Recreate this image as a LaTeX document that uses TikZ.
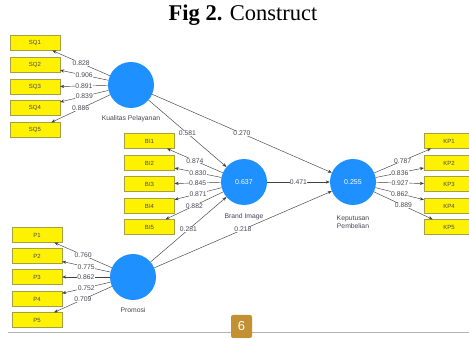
\documentclass[tikz,border=0pt]{standalone}
\usepackage{fontspec}
\setmainfont{Liberation Serif}
\setsansfont{Liberation Sans}
\usepackage{tikz}
\usetikzlibrary{arrows.meta,shapes}

\definecolor{plsblue}{RGB}{30,144,255}
\definecolor{badge}{RGB}{196,145,50}
\definecolor{lbl}{RGB}{70,70,85}

\begin{document}
\begin{tikzpicture}[x = 1pt, y = -1pt,
  every node/.style={font=\sffamily\fontsize{6.8}{8}\selectfont, text=lbl},
  item/.style={rectangle,draw=yellow!60!black,line width=.3pt,fill=yellow,minimum width=50pt,minimum height=15pt,inner sep=0pt,font=\sffamily\fontsize{6}{7}\selectfont},
  latent/.style={circle,fill=plsblue,minimum size=46pt,inner sep=0pt,text=white,font=\sffamily\fontsize{7}{8}\selectfont},
  link/.style={draw=black!75,line width=.45pt,-{Stealth[length=4pt,width=3.2pt]}},
  coef/.style={midway,fill=white,inner sep=.3pt}]
\clip (0,0) rectangle (469,339);
\fill[white] (0,0) rectangle (469,339);
\node (title) at (243,15) {\rmfamily\color{black}\fontsize{22.5}{25}\selectfont\textbf{Fig 2.} Construct};
% indicator boxes
\node[item] (sq1) at (35,43) {SQ1};
\node[item] (sq2) at (35,65) {SQ2};
\node[item] (sq3) at (35,87) {SQ3};
\node[item] (sq4) at (35,108) {SQ4};
\node[item] (sq5) at (35,130) {SQ5};
\node[item] (bi1) at (149.5,141) {BI1};
\node[item] (bi2) at (149.5,163) {BI2};
\node[item] (bi3) at (149.5,184) {BI3};
\node[item] (bi4) at (149.5,206) {BI4};
\node[item] (bi5) at (149.5,227) {BI5};
\node[item] (kp1) at (449,141) {KP1};
\node[item] (kp2) at (449,163) {KP2};
\node[item] (kp3) at (449,184) {KP3};
\node[item] (kp4) at (449,206) {KP4};
\node[item] (kp5) at (449,227) {KP5};
\node[item] (p1) at (37,235) {P1};
\node[item] (p2) at (37,256) {P2};
\node[item] (p3) at (37,277) {P3};
\node[item] (p4) at (37,299) {P4};
\node[item] (p5) at (37,320) {P5};
% constructs
\node[latent] (kual) at (131,85) {};
\node (kualName) at (131,119) {Kualitas Pelayanan};
\node[latent] (brand) at (244,182) {0.637};
\node (brandName) at (244,217) {Brand Image};
\node[latent] (keput) at (353,182) {0.255};
\node[align=center] (keputName) at (353,222) {Keputusan\\Pembelian};
\node[latent] (prom) at (133,277) {};
\node (promName) at (133,310) {Promosi};
% outer loadings
\draw[link] (kual) -- (sq1) node[coef] {0.828};
\draw[link] (kual) -- (sq2) node[coef] {0.906};
\draw[link] (kual) -- (sq3) node[coef] {0.891};
\draw[link] (kual) -- (sq4) node[coef] {0.839};
\draw[link] (kual) -- (sq5) node[coef] {0.886};
\draw[link] (brand) -- (bi1) node[coef] {0.874};
\draw[link] (brand) -- (bi2) node[coef] {0.830};
\draw[link] (brand) -- (bi3) node[coef] {0.845};
\draw[link] (brand) -- (bi4) node[coef] {0.871};
\draw[link] (brand) -- (bi5) node[coef] {0.882};
\draw[link] (keput) -- (kp1) node[coef] {0.787};
\draw[link] (keput) -- (kp2) node[coef] {0.836};
\draw[link] (keput) -- (kp3) node[coef] {0.927};
\draw[link] (keput) -- (kp4) node[coef] {0.862};
\draw[link] (keput) -- (kp5) node[coef] {0.889};
\draw[link] (prom) -- (p1) node[coef] {0.760};
\draw[link] (prom) -- (p2) node[coef] {0.775};
\draw[link] (prom) -- (p3) node[coef] {0.862};
\draw[link] (prom) -- (p4) node[coef] {0.752};
\draw[link] (prom) -- (p5) node[coef] {0.709};
% path coefficients
\draw[link] (kual) -- (brand) node[coef] {0.581};
\draw[link] (kual) -- (keput) node[coef] {0.270};
\draw[link] (brand) -- (keput) node[coef] {0.471};
\draw[link] (prom) -- (brand) node[coef] {0.281};
\draw[link] (prom) -- (keput) node[coef] {0.218};
% page footer
\coordinate (ruleL) at (8,332);
\coordinate (ruleR) at (469,332);
\draw[black!30,line width=.8pt] (ruleL) -- (ruleR);
\node[rounded corners=2pt,fill=badge,text=white,minimum width=21pt,minimum height=23pt,inner sep=0pt,font=\sffamily\fontsize{13}{14}\selectfont] (page) at (241.5,326.5) {6};
\end{tikzpicture}
\end{document}
